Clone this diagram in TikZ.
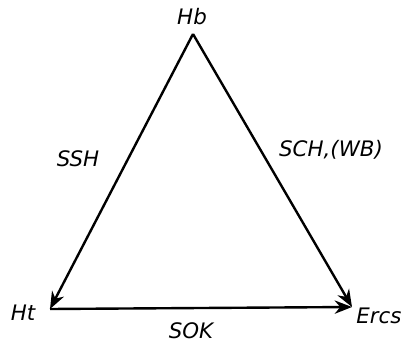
\documentclass[tikz,border=0pt]{standalone}
\usepackage{fontspec}
\setmainfont{DejaVu Sans}
\usetikzlibrary{arrows.meta}
\begin{document}
\begin{tikzpicture}[x=0.75pt,y=-0.75pt,
  lbl/.style={font=\itshape\fontsize{16}{18}\selectfont,inner sep=0pt},
  arr/.style={line width=1.8pt,-{Stealth[length=13pt,width=10pt]}}]
\useasboundingbox (0,0) rectangle (404,343);
% corners of the triangle
\coordinate (top) at (193,34);
\coordinate (left) at (50,309);
\coordinate (right) at (352,307);
% labels
\node[lbl] (hb) at (192,17) {Hb};
\node[lbl] (ht) at (23,313) {Ht};
\node[lbl] (ercs) at (379,316) {Ercs};
\node[lbl] (ssh) at (78,159) {SSH};
\node[lbl] (sch) at (331,150) {SCH,(WB)};
\node[lbl] (sok) at (191,331) {SOK};
% arrows
\draw[arr] (top) -- (left);
\draw[arr] (top) -- (right);
\draw[arr] (left) -- (right);
\end{tikzpicture}
\end{document}
